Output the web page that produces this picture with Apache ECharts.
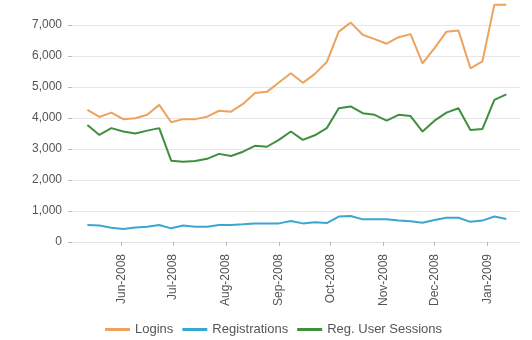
<!DOCTYPE html>
<html>
<head>
<meta charset="utf-8">
<script src="https://cdn.jsdelivr.net/npm/echarts@6/dist/echarts.min.js"></script>
<style>
  html, body { margin: 0; padding: 0; background: #fff; }
  #chart { width: 532px; height: 340px; }
</style>
</head>
<body>
<div id="chart"></div>
<script>
// Weekly activity, May 2008 – Jan 2009
const weeks = [
  '2008-05-12', '2008-05-19', '2008-05-26', '2008-06-02', '2008-06-09', '2008-06-16',
  '2008-06-23', '2008-06-30', '2008-07-07', '2008-07-14', '2008-07-21', '2008-07-28',
  '2008-08-04', '2008-08-11', '2008-08-18', '2008-08-25', '2008-09-01', '2008-09-08',
  '2008-09-15', '2008-09-22', '2008-09-29', '2008-10-06', '2008-10-13', '2008-10-20',
  '2008-10-27', '2008-11-03', '2008-11-10', '2008-11-17', '2008-11-24', '2008-12-01',
  '2008-12-08', '2008-12-15', '2008-12-22', '2008-12-29', '2009-01-05', '2009-01-12'
];

const logins = [
  4260, 4030, 4170, 3960, 3990, 4100, 4420, 3860, 3960, 3960, 4040, 4230,
  4200, 4450, 4800, 4840, 5140, 5440, 5130, 5420, 5800, 6780, 7070, 6680,
  6540, 6390, 6600, 6700, 5760, 6250, 6780, 6820, 5600, 5820, 7650, 7650
];

const registrations = [
  550, 530, 460, 420, 470, 490, 550, 440, 530, 490, 490, 550,
  550, 570, 600, 600, 600, 680, 600, 640, 610, 820, 840, 730,
  730, 730, 690, 670, 620, 710, 780, 780, 650, 690, 820, 740
];

const regUserSessions = [
  3770, 3450, 3670, 3560, 3500, 3590, 3670, 2620, 2590, 2610, 2680, 2840,
  2770, 2910, 3100, 3070, 3290, 3560, 3290, 3440, 3670, 4310, 4370, 4150,
  4100, 3910, 4100, 4060, 3560, 3910, 4170, 4310, 3610, 3640, 4580, 4760
];

const seriesNames = ['Logins', 'Registrations', 'Reg. User Sessions'];
const seriesColors = ['#EDA35E', '#3BA6D2', '#3E8F3E'];
const monthNames = ['Jan', 'Feb', 'Mar', 'Apr', 'May', 'Jun', 'Jul', 'Aug', 'Sep', 'Oct', 'Nov', 'Dec'];

const pair = (vals) => weeks.map((d, i) => [d, vals[i]]);

const chart = echarts.init(document.getElementById('chart'), null, { renderer: 'canvas' });

const textStyle = { fontFamily: 'Liberation Sans, Arial, sans-serif', color: '#555' };

chart.setOption({
  animation: false,
  backgroundColor: '#fff',
  grid: { left: 72, right: 12, top: 0, bottom: 98, containLabel: false },
  legend: {
    left: 100,
    top: 318,
    icon: 'rect',
    itemWidth: 25,
    itemHeight: 3,
    itemGap: 9,
    textStyle: Object.assign({ fontSize: 13 }, textStyle),
    data: seriesNames
  },
  xAxis: {
    type: 'time',
    min: '2008-05-03',
    max: '2009-01-20',
    minInterval: 28 * 86400000,
    maxInterval: 31 * 86400000,
    axisLine: { show: true, lineStyle: { color: '#e2e2e2' } },
    axisTick: { show: true, length: 4, lineStyle: { color: '#bbb' } },
    splitLine: { show: false },
    axisLabel: Object.assign({
      rotate: 90,
      fontSize: 12,
      margin: 12,
      showMinLabel: false,
      showMaxLabel: false,
      formatter: function (val) {
        const d = new Date(val);
        return monthNames[d.getMonth()] + '-' + d.getFullYear();
      }
    }, textStyle)
  },
  yAxis: {
    type: 'value',
    min: 0,
    max: 7800,
    interval: 1000,
    axisLine: { show: false },
    axisTick: { show: true, length: 4, lineStyle: { color: '#bbb' } },
    splitLine: { show: true, showMaxLine: false, lineStyle: { color: '#e6e6e6' } },
    axisLabel: Object.assign({
      fontSize: 12,
      margin: 10,
      showMaxLabel: false,
      formatter: (v) => (v % 1000 === 0 ? v.toLocaleString('en-US') : '')
    }, textStyle)
  },
  series: [
    { name: seriesNames[0], data: pair(logins) },
    { name: seriesNames[1], data: pair(registrations) },
    { name: seriesNames[2], data: pair(regUserSessions) }
  ].map((s, i) => Object.assign({
    type: 'line',
    showSymbol: false,
    symbol: 'none',
    color: seriesColors[i],
    lineStyle: { width: 2, color: seriesColors[i] }
  }, s))
});
</script>
</body>
</html>
